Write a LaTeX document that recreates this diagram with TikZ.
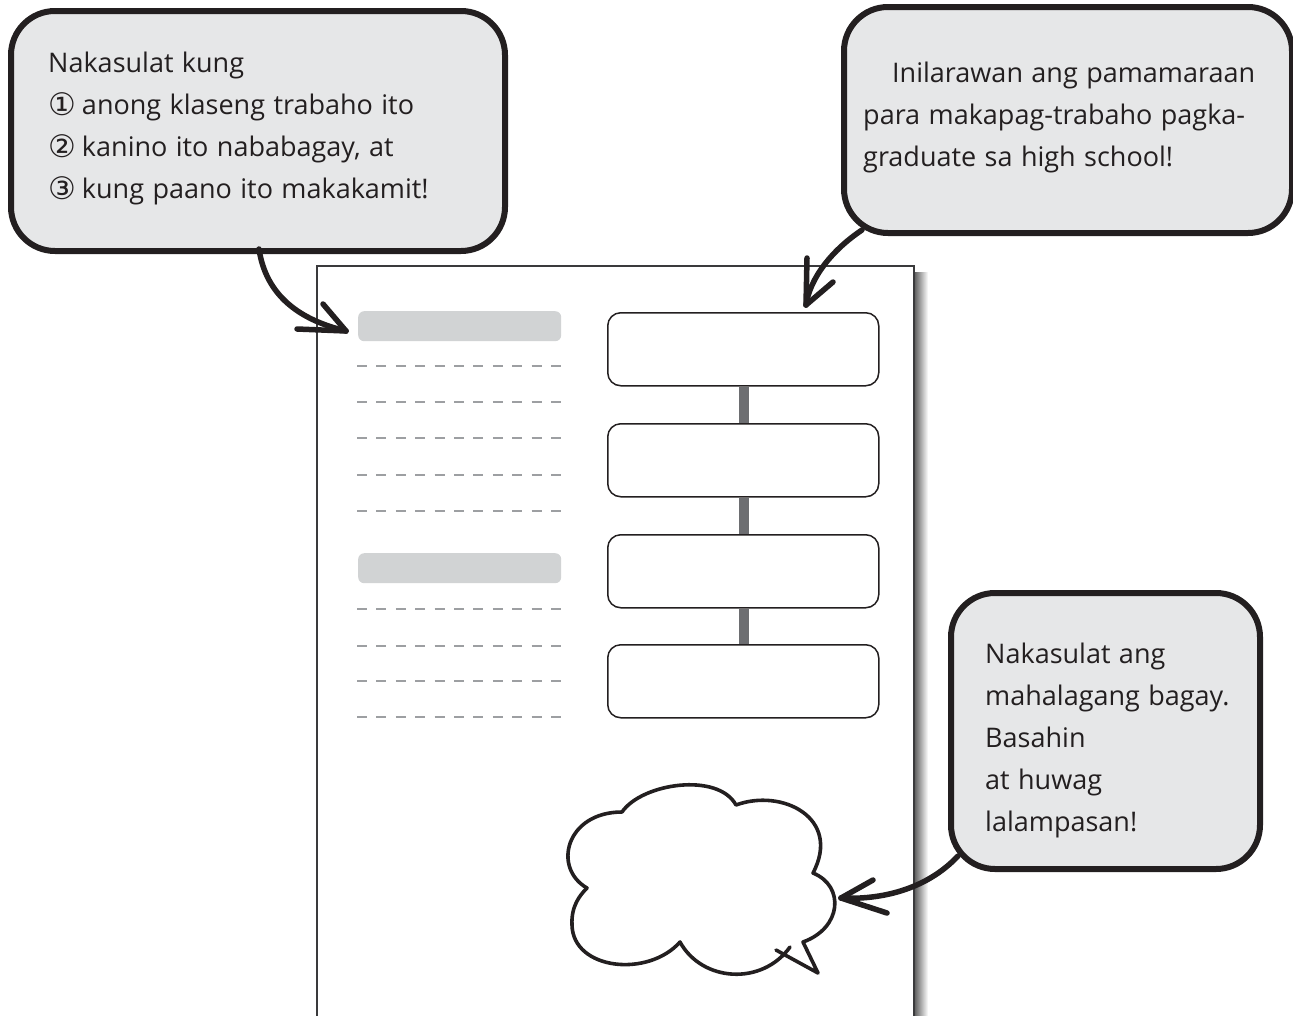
\documentclass[tikz,border=0pt]{standalone}
\usepackage{fontspec}
\setmainfont[WordSpace={1.2}]{Open Sans}
\newfontfamily\circfont{DejaVu Sans}
\definecolor{ink}{HTML}{231F20}
\definecolor{bubblefill}{HTML}{E6E7E8}
\definecolor{bandgray}{HTML}{D1D3D4}
\definecolor{dashgray}{HTML}{9D9FA2}
\definecolor{linkgray}{HTML}{6D6E71}
\definecolor{pageline}{HTML}{3A3A3C}
\newcommand{\circnum}[1]{\raisebox{-1.5pt}{\fontsize{31}{31}\circfont #1}\hspace{6pt}}
\begin{document}
\begin{tikzpicture}[x=1pt,y=-1pt,
  bubble/.style={draw=ink, fill=bubblefill, line width=6pt, rounded corners=44pt,
                 inner sep=0pt, anchor=north west},
  tail/.style={draw=ink, line width=5.5pt, line cap=round, line join=round},
  say/.style={anchor=base west, inner sep=0pt, text=ink,
              font=\fontsize{27}{30}\selectfont},
  card/.style={draw=ink, line width=1.5pt, rounded corners=13pt, fill=white,
               inner sep=0pt, anchor=north west},
  band/.style={fill=bandgray, rounded corners=6pt, inner sep=0pt, anchor=north west},
  ruled/.style={draw=dashgray, line width=2.6pt, dash pattern=on 10pt off 9.4pt},
  link/.style={draw=linkgray, line width=10pt},
  cloudline/.style={draw=ink, line width=3.6pt, line cap=round, line join=round}]

\useasboundingbox (0,0) rectangle (1293,1015);

% sheet of paper with a soft shadow on its right edge
\shade[left color=black!65, right color=white] (914,272) rectangle (928,1015);
\fill[white] (317,266) rectangle (914,1015);
\draw[pageline, line width=2pt] (317,1017) -- (317,266) -- (914,266) -- (914,1017);

% heading bands and writing lines
\node (h1) [band, minimum width=203pt, minimum height=30pt] at (358,311) {};
\node (h2) [band, minimum width=203pt, minimum height=30pt] at (358,553) {};
\foreach \yy in {366,402,438,475,511,609,646,681,717}
  \draw[ruled] (357,\yy) -- (561,\yy);

% process steps joined by bars
\node (s1) [card, minimum width=271pt, minimum height=73pt] at (607,312) {};
\node (s2) [card, minimum width=271pt, minimum height=73pt] at (607,423) {};
\node (s3) [card, minimum width=271pt, minimum height=73pt] at (607,534) {};
\node (s4) [card, minimum width=271pt, minimum height=73pt] at (607,644) {};
\draw[link] ([xshift=0.5pt]s1.south) -- ([xshift=0.5pt]s2.north);
\draw[link] ([xshift=0.5pt]s2.south) -- ([xshift=0.5pt]s3.north);
\draw[link] ([xshift=0.5pt]s3.south) -- ([xshift=0.5pt]s4.north);

% thought cloud
\draw[cloudline]
  (622,812) .. controls (642,783) and (718,772) .. (736,805)
  .. controls (782,788) and (842,818) .. (813,873)
  .. controls (845,886) and (842,928) .. (803,942)
  -- (818,973) -- (776,950);
\draw[cloudline]
  (790,947) .. controls (762,986) and (702,982) .. (680,942)
  .. controls (648,978) and (573,970) .. (572,925)
  .. controls (571,906) and (580,895) .. (587,888)
  .. controls (552,868) and (566,812) .. (622,812);

% speech bubbles
\node (b1) [bubble, minimum width=494pt, minimum height=240pt] at (8,8) {};
\node (b2) [bubble, minimum width=448pt, minimum height=226pt] at (841,4) {};
\node (b3) [bubble, minimum width=309pt, minimum height=276pt] at (948,590) {};

\node (t11) [say] at (48,72)  {Nakasulat kung};
\node (t12) [say] at (48,114) {\circnum{①}anong klaseng trabaho ito};
\node (t13) [say] at (48,156) {\circnum{②}kanino ito nababagay, at};
\node (t14) [say] at (48,198) {\circnum{③}kung paano ito makakamit!};

\node (t21) [say] at (892,82)  {Inilarawan ang pamamaraan};
\node (t22) [say] at (863,124) {para makapag-trabaho pagka-};
\node (t23) [say] at (863,166) {graduate sa high school!};

\node (t31) [say] at (985,663) {Nakasulat ang};
\node (t32) [say] at (985,705) {mahalagang bagay.};
\node (t33) [say] at (985,747) {Basahin};
\node (t34) [say] at (985,789) {at huwag};
\node (t35) [say] at (985,831) {lalampasan!};

% curved pointers from the bubbles
\coordinate (p1) at (259,249);
\coordinate (q1) at (346,331);
\draw[tail] (p1) .. controls (266,296) and (300,320) .. (q1);
\draw[tail] (323,304) -- (q1);
\draw[tail] (297,329) -- (q1);

\coordinate (p2) at (862,230);
\coordinate (q2) at (806,305);
\draw[tail] (p2) .. controls (832,250) and (810,278) .. (q2);
\draw[tail] (807,258) -- (q2);
\draw[tail] (833,282) -- (q2);

\coordinate (p3) at (958,856);
\coordinate (q3) at (841,898);
\draw[tail] (p3) .. controls (926,890) and (880,900) .. (q3);
\draw[tail] (873,880) -- (q3);
\draw[tail] (887,913) -- (q3);
\end{tikzpicture}
\end{document}
